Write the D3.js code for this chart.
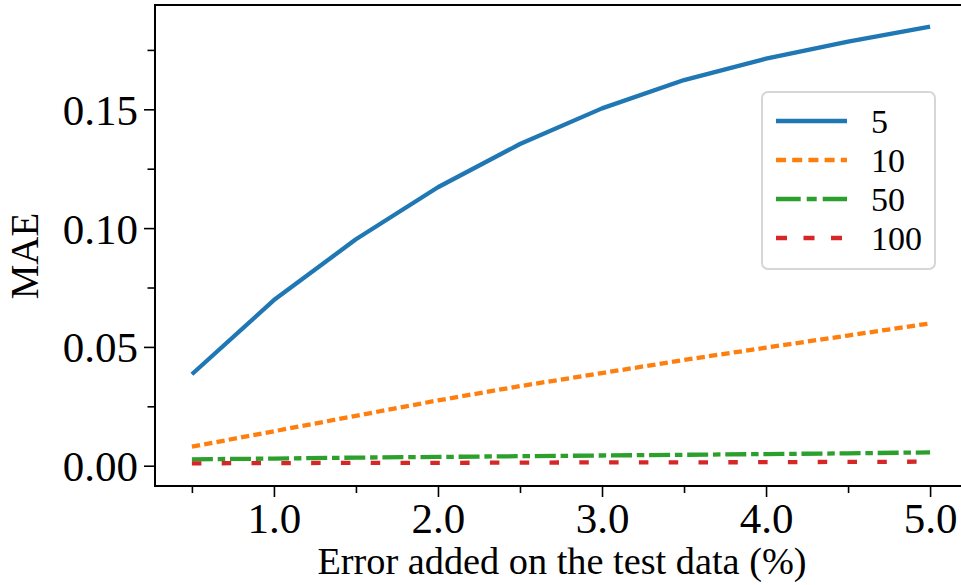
<!DOCTYPE html>
<html>
<head>
<meta charset="utf-8">
<script src="https://cdn.jsdelivr.net/npm/d3@7/dist/d3.min.js"></script>
<style>
  html, body { margin: 0; padding: 0; background: #fff; }
  svg { display: block; }
</style>
</head>
<body>
<script>
// ---- data ----
const xValues = [0.5, 1.0, 1.5, 2.0, 2.5, 3.0, 3.5, 4.0, 4.5, 5.0];
const seriesNames = ["5", "10", "50", "100"];
const mae5   = [0.0385, 0.0697, 0.0953, 0.1172, 0.1354, 0.1504, 0.1623, 0.1713, 0.1785, 0.1848];
const mae10  = [0.0080, 0.0145, 0.0210, 0.0275, 0.0335, 0.0390, 0.0445, 0.0497, 0.0548, 0.0599];
const mae50  = [0.0027, 0.0030, 0.0034, 0.0037, 0.0040, 0.0043, 0.0046, 0.0049, 0.0052, 0.0056];
const mae100 = [0.0010, 0.0011, 0.0012, 0.0012, 0.0013, 0.0014, 0.0014, 0.0015, 0.0016, 0.0017];
const xMajorTicks = [1.0, 2.0, 3.0, 4.0, 5.0];
const xMinorTicks = [0.5, 1.5, 2.5, 3.5, 4.5];
const yMajorTicks = [0.00, 0.05, 0.10, 0.15];
const yMinorTicks = [0.025, 0.075, 0.125, 0.175];
const xLabel = "Error added on the test data (%)";
const yLabel = "MAE";

// ---- styles ----
const seriesValues = [mae5, mae10, mae50, mae100];
const colors = ["#1f77b4", "#ff7f0e", "#2ca02c", "#d62728"];
const plotDash = [null, "8.3 4.2", "21 4.8 7.5 4.8", "9.5 20.3"];
const legendDash = [null, "10 6.2", "24.7 6 10 6", "11 16.5"];

const W = 961, H = 585;
const mLeft = 155, mRight = 967, mTop = 5, mBottom = 486;
const font = "'Liberation Serif', 'Times New Roman', serif";

const svg = d3.select("body").append("svg").attr("width", W).attr("height", H);

const x = d3.scaleLinear().domain([0.275, 5.225]).range([mLeft, mRight]);
const y = d3.scaleLinear().domain([-0.00854, 0.1939]).range([mBottom, mTop]);

// lines
const line = d3.line().x((d, i) => x(xValues[i])).y(d => y(d));
seriesValues.forEach((vals, k) => {
  svg.append("path")
    .datum(vals)
    .attr("d", line)
    .attr("fill", "none")
    .attr("stroke", colors[k])
    .attr("stroke-width", 4.3)
    .attr("stroke-linecap", "butt")
    .attr("stroke-linejoin", "round")
    .attr("stroke-dasharray", plotDash[k]);
});

// axes (major + minor)
function styleAxis(g) {
  g.select(".domain").remove();
  g.selectAll(".tick line").attr("stroke", "#000").attr("stroke-width", 1.6);
}
const xAxis = svg.append("g").attr("transform", `translate(0,${mBottom})`)
  .call(d3.axisBottom(x).tickValues(xMajorTicks).tickSize(11).tickFormat(d3.format(".1f")));
styleAxis(xAxis);
xAxis.selectAll(".tick text")
  .attr("y", 47).attr("dy", null)
  .attr("font-family", font).attr("font-size", 43).attr("fill", "#000");
const xMinor = svg.append("g").attr("transform", `translate(0,${mBottom})`)
  .call(d3.axisBottom(x).tickValues(xMinorTicks).tickSize(7).tickFormat(""));
styleAxis(xMinor);

const yAxis = svg.append("g").attr("transform", `translate(${mLeft},0)`)
  .call(d3.axisLeft(y).tickValues(yMajorTicks).tickSize(11).tickFormat(d3.format(".2f")));
styleAxis(yAxis);
yAxis.selectAll(".tick text")
  .attr("x", -17).attr("dy", null).attr("y", 15)
  .attr("font-family", font).attr("font-size", 43).attr("fill", "#000");
const yMinor = svg.append("g").attr("transform", `translate(${mLeft},0)`)
  .call(d3.axisLeft(y).tickValues(yMinorTicks).tickSize(7.5).tickFormat(""));
styleAxis(yMinor);

// frame
svg.append("rect")
  .attr("x", mLeft).attr("y", mTop)
  .attr("width", mRight - mLeft).attr("height", mBottom - mTop)
  .attr("fill", "none").attr("stroke", "#000").attr("stroke-width", 2);

// axis labels
svg.append("text")
  .attr("x", (mLeft + mRight) / 2 + 1).attr("y", 574)
  .attr("text-anchor", "middle")
  .attr("font-family", font).attr("font-size", 38.3).attr("fill", "#000")
  .text(xLabel);
svg.append("text")
  .attr("transform", `translate(38,256) rotate(-90)`)
  .attr("text-anchor", "middle")
  .attr("font-family", font).attr("font-size", 39).attr("fill", "#000")
  .text(yLabel);

// legend
const lg = svg.append("g");
lg.append("rect")
  .attr("x", 762).attr("y", 92).attr("width", 173).attr("height", 177)
  .attr("rx", 6).attr("ry", 6)
  .attr("fill", "#fff").attr("fill-opacity", 0.8)
  .attr("stroke", "#d6d6d6").attr("stroke-width", 2);
seriesNames.forEach((name, k) => {
  const cy = 121 + k * 39;
  lg.append("line")
    .attr("x1", 776).attr("x2", 847).attr("y1", cy).attr("y2", cy)
    .attr("stroke", colors[k]).attr("stroke-width", 4.3)
    .attr("stroke-dasharray", legendDash[k]);
  lg.append("text")
    .attr("x", 871).attr("y", cy + 12)
    .attr("font-family", font).attr("font-size", 34).attr("fill", "#000")
    .text(name);
});
</script>
</body>
</html>
